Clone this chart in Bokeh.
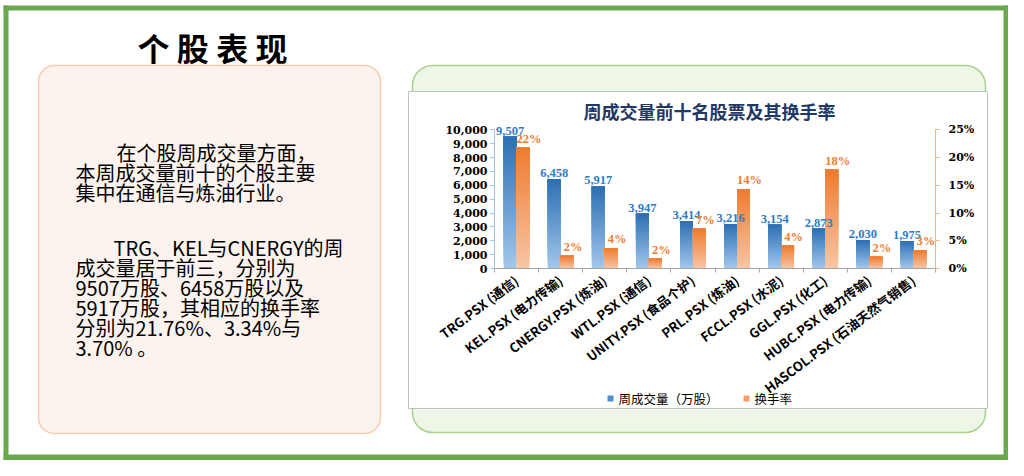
import math
from bokeh.plotting import figure
from bokeh.models import (Range1d, LinearAxis, FixedTicker, BoxAnnotation,
                          NumeralTickFormatter)
from bokeh.core.properties import value
from bokeh.embed import file_html
from bokeh.resources import INLINE

# ---------------- data ----------------
categories = ["TRG.PSX (通信)", "KEL.PSX (电力传输)", "CNERGY.PSX (炼油)", "WTL.PSX (通信)",
              "UNITY.PSX (食品个护)", "PRL.PSX (炼油)", "FCCL.PSX (水泥)", "GGL.PSX (化工)",
              "HUBC.PSX (电力传输)", "HASCOL.PSX (石油天然气销售)"]
volume = [9507, 6458, 5917, 3947, 3414, 3216, 3154, 2873, 2030, 1975]          # 万股
turnover = [21.76, 2.3, 3.70, 1.75, 7.2, 14.3, 4.1, 17.8, 2.1, 3.3]              # %
vol_ticks = [0, 1000, 2000, 3000, 4000, 5000, 6000, 7000, 8000, 9000, 10000]
rate_ticks = [0, 5, 10, 15, 20, 25]
series_names = ["周成交量（万股）", "换手率"]
chart_title = "周成交量前十名股票及其换手率"
page_title = "个 股 表 现"
para1 = ["在个股周成交量方面，", "本周成交量前十的个股主要", "集中在通信与炼油行业。"]
para2 = ["TRG、KEL与CNERGY的周", "成交量居于前三，分别为", "9507万股、6458万股以及",
         "5917万股，其相应的换手率", "分别为21.76%、3.34%与", "3.70% 。"]

# ---------------- layout (canvas pixels) ----------------
W, H = 1008, 460
AX_L, AX_R = 494.0, 935.0       # left / right value axes
AX_B, AX_T = 268.0, 129.3       # value 0 / value max
NCAT = len(categories)
VMAX, RMAX = vol_ticks[-1], rate_ticks[-1]
pxc = (AX_R - AX_L) / NCAT
pyv = (AX_B - AX_T) / VMAX
pyr = (AX_B - AX_T) / RMAX

CJK = "Noto Sans CJK SC"
SERIF = "Liberation Serif"
TICKF = "DejaVu Serif"

p = figure(width=W, height=H, output_backend="svg", toolbar_location=None,
           x_range=Range1d((0 - AX_L) / pxc, (W - AX_L) / pxc),
           y_range=Range1d((AX_B - H) / pyv, AX_B / pyv),
           min_border=0, min_border_left=0, min_border_right=0,
           min_border_top=0, min_border_bottom=0,
           background_fill_color="white", border_fill_color="white")
p.outline_line_color = None
p.xgrid.visible = False
p.ygrid.visible = False
p.extra_y_ranges = {"rate": Range1d((AX_B - H) / pyr, AX_B / pyr), "py": Range1d(H, 0)}
p.extra_x_ranges = {"px": Range1d(0, W)}
PX = dict(x_range_name="px", y_range_name="py")

# ---------------- decorations ----------------
def rbox(l, r, t, b, fill, line, lw, radius):
    p.add_layout(BoxAnnotation(left=l, right=r, top=t, bottom=b, fill_color=fill,
                               fill_alpha=1.0, line_color=line, line_alpha=1.0,
                               line_width=lw, border_radius=radius, level="underlay", **PX))

rbox(38, 380, 65, 433, "#fdf3ee", "#f8cbad", 1.5, 16)
rbox(412, 985, 65, 432, "#eef6e8", "#a9d18e", 1.5, 20)
rbox(408, 987, 91, 408, "#ffffff", "#bfbfbf", 1.0, 0)

green = "#6aa84f"
p.quad(left=[3, 1003, 3, 3], right=[8, 1008, 1008, 1008], top=[5, 5, 5, 454],
       bottom=[460, 460, 10, 460], fill_color=green, line_color=None, **PX)

def texts(xs, ys, ts, size, color="black", align="left", style="normal", font=CJK):
    p.text(x=xs, y=ys, text=ts, text_font=value(font), text_font_size=value(size),
           text_color=color, text_align=align, text_baseline="middle",
           text_font_style=style, **PX)

texts([212], [46], [page_title], "32px", align="center", style="bold")
texts([116 if i == 0 else 75 for i in range(len(para1))],
      [152 + 20 * i for i in range(len(para1))], para1, "20px")
texts([113 if i == 0 else 75 for i in range(len(para2))],
      [246.5 + 20 * i for i in range(len(para2))], para2, "20px")
texts([709], [110], [chart_title], "18px", color="#1f3864", align="center", style="bold")

# legend
p.quad(left=[607, 743], right=[613, 749], top=[395, 395], bottom=[401, 401],
       fill_color=["#4f8fd0", "#f2a06c"], line_color=None, **PX)
texts([618, 754], [398, 398], series_names, "12.5px")

# ---------------- bars with vertical gradient ----------------
N = 30
BW = 0.146
def mix(c0, c1, t):
    return "#%02x%02x%02x" % tuple(int(round(a + (b - a) * t)) for a, b in zip(c0, c1))

def gradient_bars(vals, x_off, dark, light, **kw):
    L, R, B, T, C = [], [], [], [], []
    for i, v in enumerate(vals):
        c = i + 0.5 + x_off
        for k in range(N):
            L.append(c - BW); R.append(c + BW)
            B.append(v * k / N); T.append(v)
            C.append(mix(light, dark, k / (N - 1)))
    p.quad(left=L, right=R, bottom=B, top=T, fill_color=C, line_color=None, **kw)

gradient_bars(volume, -BW, (46, 112, 180), (160, 198, 234))
gradient_bars(turnover, BW, (237, 125, 49), (247, 196, 164), y_range_name="rate")

# data labels
p.text(x=[i + 0.5 - BW for i in range(NCAT)], y=volume, text=[f"{v:,}" for v in volume],
       text_align="center", text_baseline="bottom", y_offset=-2, text_font=value(SERIF),
       text_font_size=value("12.5px"), text_font_style="bold", text_color="#2e7cc6")
p.text(x=[i + 0.5 + BW for i in range(NCAT)], y=turnover,
       text=[f"{round(v)}%" for v in turnover], y_range_name="rate",
       text_align="center", text_baseline="bottom", x_offset=6, y_offset=-2,
       text_font=value(SERIF), text_font_size=value("12.5px"), text_font_style="bold",
       text_color="#ed7d31")

# ---------------- axes ----------------
xa = p.xaxis[0]
xa.fixed_location = 0
xa.bounds = (0, NCAT)
xa.ticker = FixedTicker(ticks=[i + 0.5 for i in range(NCAT)], minor_ticks=list(range(NCAT + 1)))
xa.major_label_overrides = {i + 0.5: c for i, c in enumerate(categories)}
xa.major_label_orientation = math.radians(37)
xa.major_tick_line_color = None
xa.major_tick_out = 0
xa.major_tick_in = 0
xa.minor_tick_line_color = "#a6a6a6"
xa.minor_tick_out = 4
xa.minor_tick_in = 0
xa.axis_line_color = "#a6a6a6"
xa.major_label_standoff = 6
xa.major_label_text_font = CJK
xa.major_label_text_font_size = "13px"
xa.major_label_text_font_style = "bold"
xa.major_label_text_color = "black"

ya = p.yaxis[0]
ya.fixed_location = 0
ya.bounds = (0, VMAX)
ya.ticker = FixedTicker(ticks=vol_ticks, minor_ticks=[])
ya.formatter = NumeralTickFormatter(format="0,0")
ya.axis_line_color = "#9dc3e6"
ya.major_tick_line_color = "#9dc3e6"
ya.major_tick_out = 4
ya.major_tick_in = 0
ya.minor_tick_line_color = None
ya.major_label_standoff = 3
ya.major_label_text_font = TICKF
ya.major_label_text_font_size = "11px"
ya.major_label_text_font_style = "bold"
ya.major_label_text_color = "black"

ra = LinearAxis(y_range_name="rate", fixed_location=NCAT, bounds=(0, RMAX),
                ticker=FixedTicker(ticks=rate_ticks, minor_ticks=[]))
ra.major_label_overrides = {t: f"{t}%" for t in rate_ticks}
ra.axis_line_color = "#f4b183"
ra.major_tick_line_color = "#f4b183"
ra.major_tick_out = 4
ra.major_tick_in = 0
ra.minor_tick_line_color = None
ra.major_label_standoff = 9
ra.major_label_text_font = TICKF
ra.major_label_text_font_size = "11px"
ra.major_label_text_font_style = "bold"
ra.major_label_text_color = "black"
p.add_layout(ra, "right")

open("out.html", "w").write(file_html(p, INLINE))
